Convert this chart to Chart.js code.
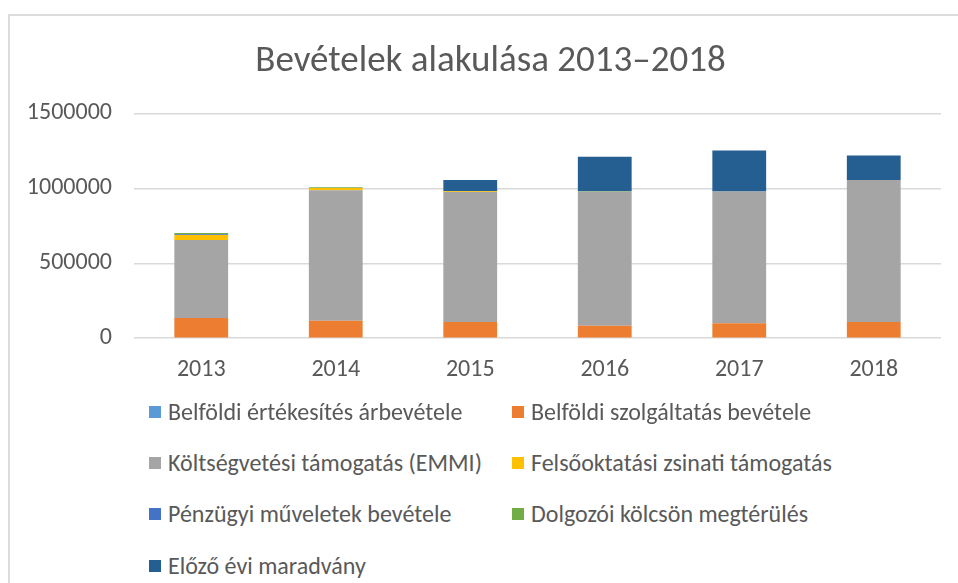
<!DOCTYPE html>
<html>
<head>
<meta charset="utf-8">
<script src="https://cdn.jsdelivr.net/npm/chart.js@4"></script>
<style>
  body { margin: 0; background: #fff; width: 958px; height: 583px; overflow: hidden; position: relative; }
  #frame { position: absolute; left: 8px; top: 14px; width: 1000px; height: 700px; border: 2px solid #dcdcdc; }
  #wrap { position: absolute; left: 0; top: 0; width: 958px; height: 410px; }
  #legend { position: absolute; left: 0; top: 0; font-family: Carlito, Lato, sans-serif; font-size: 24px; color: #595959; }
  .item { position: absolute; white-space: nowrap; line-height: 24px; height: 24px; }
  .item span.box { position: absolute; left: 0; top: 6px; width: 12px; height: 12px; }
  .item span.txt { position: absolute; left: 19px; top: 0; }
</style>
</head>
<body>
<div id="frame"></div>
<div id="wrap"><canvas id="myChart"></canvas></div>
<div id="legend"></div>
<script>
(()=>{
    // adatok
    const years = ['2013', '2014', '2015', '2016', '2017', '2018'];
    const yTicks = [0, 500000, 1000000, 1500000];

    const belfoldiErtekesites = [0, 0, 0, 0, 0, 0];
    const belfoldiSzolgaltatas = [135000, 117000, 108000, 83000, 99000, 108000];
    const koltsegvetesi = [520000, 871000, 867000, 894000, 880000, 947000];
    const zsinati = [33000, 15000, 6000, 0, 0, 0];
    const penzugyi = [5000, 0, 0, 0, 0, 0];
    const dolgozoi = [9000, 5000, 0, 4000, 0, 0];
    const maradvany = [0, 0, 74000, 229000, 273000, 164000];

    const series = [
      { label: 'Belföldi értékesítés árbevétele', data: belfoldiErtekesites, color: '#5B9BD5' },
      { label: 'Belföldi szolgáltatás bevétele', data: belfoldiSzolgaltatas, color: '#ED7D31' },
      { label: 'Költségvetési támogatás (EMMI)', data: koltsegvetesi, color: '#A5A5A5' },
      { label: 'Felsőoktatási zsinati támogatás', data: zsinati, color: '#FFC000' },
      { label: 'Pénzügyi műveletek bevétele', data: penzugyi, color: '#4472C4' },
      { label: 'Dolgozói kölcsön megtérülés', data: dolgozoi, color: '#70AD47' },
      { label: 'Előző évi maradvány', data: maradvany, color: '#255E91' }
    ];

    const font = 'Carlito, Lato, sans-serif';
    const txtColor = '#595959';

    // a cím kicsit jobbra kerül, mint az eredetin
    const titleShift = {
      id: 'titleShift',
      afterLayout(chart) { chart.titleBlock.left += 40; }
    };

    var ctx = document.getElementById('myChart').getContext('2d');

    var myChart = new Chart(ctx, {
      type: 'bar',
      data: {
        labels: years,
        datasets: series.map(s => ({
          label: s.label,
          data: s.data,
          backgroundColor: s.color,
          borderWidth: 0,
          barPercentage: 0.4,
          categoryPercentage: 1
        }))
      },
      options: {
        responsive: true,
        maintainAspectRatio: false,
        animation: false,
        layout: { padding: { left: 0, right: 17, top: 0, bottom: 9 } },
        plugins: {
          legend: { display: false },
          tooltip: { enabled: false },
          title: {
            display: true,
            text: 'Bevételek alakulása 2013–2018',
            color: txtColor,
            font: { family: font, size: 37, weight: 300, lineHeight: 1.2 },
            padding: { top: 40, bottom: 29 }
          }
        },
        scales: {
          x: {
            stacked: true,
            grid: { display: false, drawTicks: false },
            border: { display: false },
            ticks: { color: txtColor, font: { family: font, size: 24 }, padding: 17 }
          },
          y: {
            stacked: true,
            min: 0,
            max: 1500000,
            afterFit: (scale) => { scale.width = 134; },
            afterBuildTicks: (scale) => { scale.ticks = yTicks.map(v => ({ value: v })); },
            grid: { color: '#D9D9D9', lineWidth: 1.5, drawTicks: false },
            border: { display: false },
            ticks: { color: txtColor, font: { family: font, size: 24 }, padding: 22, callback: (v) => String(v) }
          }
        }
      },
      plugins: [titleShift]
    });

    myChart.update();

    // jelmagyarázat két oszlopban
    const legend = document.getElementById('legend');
    const colX = [149, 512];
    const rowY = [400, 451, 502, 554];
    series.forEach((s, i) => {
      const el = document.createElement('div');
      el.className = 'item';
      el.style.left = colX[i % 2] + 'px';
      el.style.top = rowY[Math.floor(i / 2)] + 'px';
      el.innerHTML = '<span class="box" style="background:' + s.color + '"></span><span class="txt">' + s.label + '</span>';
      legend.appendChild(el);
    });
})();
</script>
</body>
</html>
